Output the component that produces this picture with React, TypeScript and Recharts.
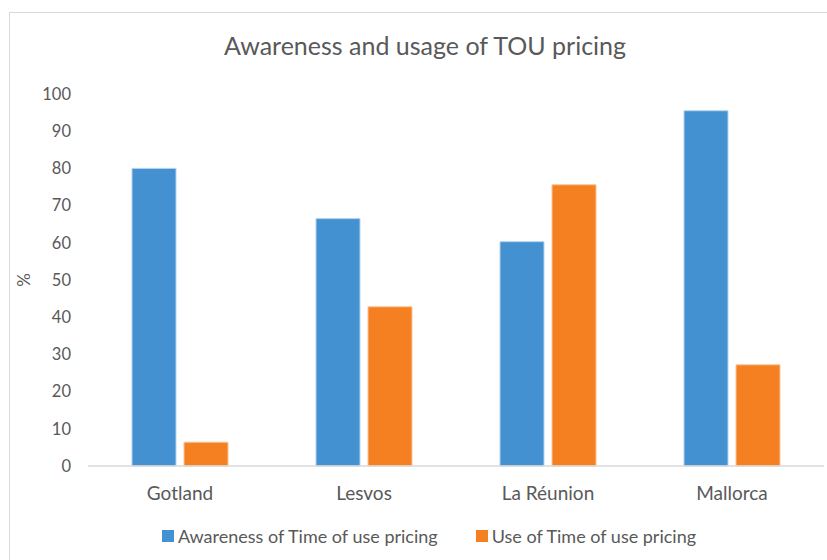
import { Bar, BarChart, Legend, XAxis, YAxis } from "recharts";

const islands = ["Gotland", "Lesvos", "La Réunion", "Mallorca"];
const awareness = [80, 66.5, 60.3, 95.5];
const usage = [6.4, 42.8, 75.6, 27.2];
const yTicks = [0, 10, 20, 30, 40, 50, 60, 70, 80, 90, 100];

const AWARE_NAME = "Awareness of Time of use pricing";
const USE_NAME = "Use of Time of use pricing";
const BLUE = "#4391d0";
const ORANGE = "#f58021";
const FONT = "Lato, 'Open Sans', sans-serif";
const TEXT = "#595959";

const data = islands.map((name, i) => ({
  name,
  aware: awareness[i],
  use: usage[i],
}));

function LegendRow() {
  const items = [
    { label: AWARE_NAME, color: BLUE },
    { label: USE_NAME, color: ORANGE },
  ];
  return (
    <div style={{ display: "flex", justifyContent: "center", gap: 38, fontFamily: FONT, fontSize: 18, color: TEXT, paddingLeft: 6 }}>
      {items.map((it) => (
        <div key={it.label} style={{ display: "flex", alignItems: "center" }}>
          <span style={{ width: 12, height: 12, background: it.color, marginRight: 4, display: "inline-block" }} />
          <span>{it.label}</span>
        </div>
      ))}
    </div>
  );
}

export default function App() {
  return (
    <div style={{ position: "absolute", left: 0, top: 0, width: 827, height: 560, overflow: "hidden", background: "#fff" }}>
      <div
        style={{
          position: "absolute",
          left: 9,
          top: 12,
          width: 840,
          height: 600,
          border: "1.5px solid #d9d9d9",
        }}
      />
      <div
        style={{
          position: "absolute",
          left: 0,
          top: 30,
          width: 850,
          textAlign: "center",
          fontFamily: FONT,
          fontSize: 25,
          color: TEXT,
        }}
      >
        Awareness and usage of TOU pricing
      </div>
      <div style={{ position: "absolute", left: 0, top: 0 }}>
        <BarChart
          width={827}
          height={560}
          data={data}
          margin={{ top: 94, right: 3, bottom: 32, left: 28 }}
          barCategoryGap={44}
          barGap={8}
        >
          <XAxis
            dataKey="name"
            axisLine={{ stroke: "#d9d9d9", strokeWidth: 1.5 }}
            tickLine={false}
            height={40}
            tickMargin={15}
            tick={{ fill: TEXT, fontSize: 19, fontFamily: FONT }}
          />
          <YAxis
            domain={[0, 100]}
            ticks={yTicks}
            width={60}
            axisLine={false}
            tickLine={false}
            tickMargin={11}
            tick={{ fill: TEXT, fontSize: 16.5, fontFamily: FONT }}
            label={{
              value: "%",
              angle: -90,
              position: "insideLeft",
              offset: -4,
              style: { fill: TEXT, fontSize: 17, fontFamily: FONT, textAnchor: "middle" },
            }}
          />
          <Legend verticalAlign="bottom" wrapperStyle={{ bottom: 13 }} content={() => <LegendRow />} />
          <Bar dataKey="aware" name={AWARE_NAME} fill={BLUE} stroke="#b5d3ee" strokeWidth={1} isAnimationActive={false} />
          <Bar dataKey="use" name={USE_NAME} fill={ORANGE} stroke="#fbc39a" strokeWidth={1} isAnimationActive={false} />
        </BarChart>
      </div>
    </div>
  );
}
